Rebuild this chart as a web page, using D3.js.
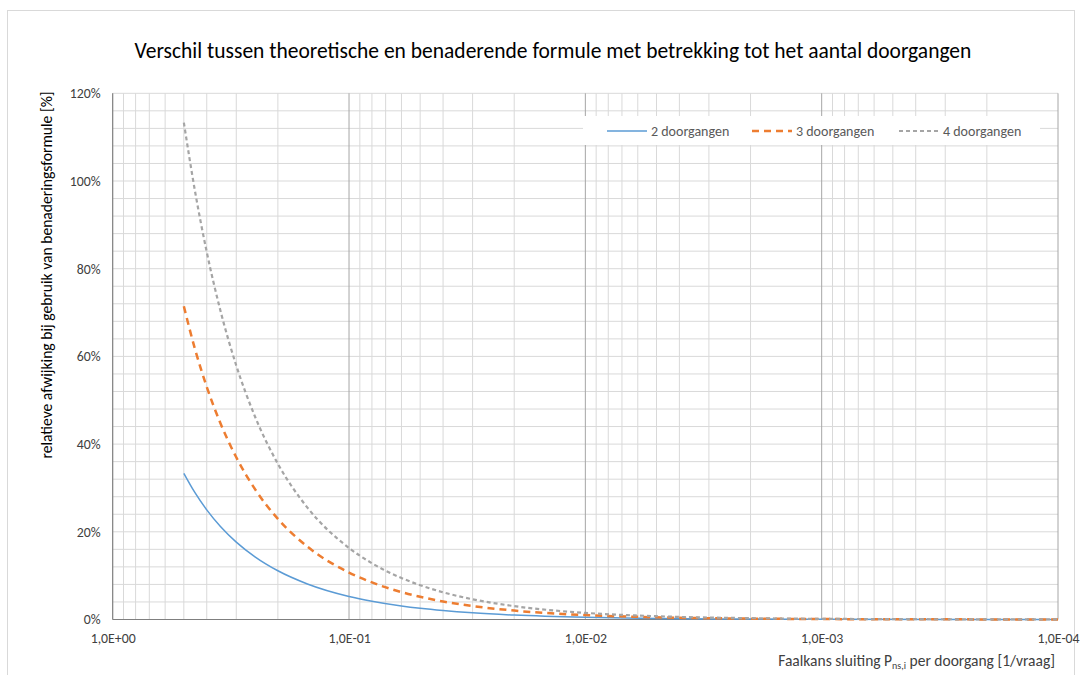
<!DOCTYPE html>
<html><head><meta charset="utf-8">
<script src="https://cdn.jsdelivr.net/npm/d3@7"></script>
<style>body{margin:0;background:#fff}svg{display:block}</style>
</head><body>
<svg id="c" width="1081" height="675"></svg>
<script>
const pValues = [0.5,0.45,0.4,0.35,0.3,0.25,0.2,0.15,0.1,0.08,0.06,0.05,0.04,0.03,0.02,0.01,0.005,0.002,0.001,0.0001];
const dev2 = [0.3333,0.2903,0.25,0.2121,0.1765,0.1429,0.1111,0.0811,0.0526,0.0417,0.0309,0.0256,0.0204,0.0152,0.0101,0.0050,0.0025,0.0010,0.0005,0.00005];
const dev3 = [0.7143,0.6194,0.5306,0.4475,0.3699,0.2973,0.2295,0.1662,0.1070,0.0845,0.0625,0.0517,0.0411,0.0306,0.0203,0.0101,0.0050,0.0020,0.0010,0.0001];
const dev4 = [1.1333,0.9813,0.8382,0.7042,0.5792,0.4629,0.3550,0.2552,0.1631,0.1283,0.0946,0.0782,0.0620,0.0461,0.0305,0.0151,0.0075,0.0030,0.0015,0.00015];
const seriesNames = ["2 doorgangen","3 doorgangen","4 doorgangen"];
const xTickValues = [1,0.1,0.01,0.001,0.0001];
const xTickLabels = ["1,0E+00","1,0E-01","1,0E-02","1,0E-03","1,0E-04"];
const yTickValues = [0,0.2,0.4,0.6,0.8,1.0,1.2];
const yTickLabels = ["0%","20%","40%","60%","80%","100%","120%"];
const title = "Verschil tussen theoretische en benaderende formule met betrekking tot het aantal doorgangen";
const yTitle = "relatieve afwijking bij gebruik van benaderingsformule [%]";

const svg = d3.select("#c");
const font = "Carlito, 'Liberation Sans Narrow', 'Open Sans', sans-serif";
const L = 112.7, R = 1058, T = 93.3, B = 619.5;
const x = d3.scaleLog().domain([1,0.0001]).range([L,R]);
const y = d3.scaleLinear().domain([0,1.2]).range([B,T]);

svg.append("rect").attr("x",7.5).attr("y",10.5).attr("width",1067).attr("height",670)
  .attr("fill","#fff").attr("stroke","#d9d9d9");

svg.append("text").attr("x",553).attr("y",58).attr("text-anchor","middle")
  .attr("font-family",font).attr("font-size",21.5).attr("fill","#000").text(title);

// minor vertical grid
const g = svg.append("g");
const minorX = [];
for (let d=0; d>-4; d--) for (let k=2;k<=9;k++) minorX.push(k*Math.pow(10,d-1));
g.selectAll(".vx").data(minorX).enter().append("line")
  .attr("x1",d=>x(d)).attr("x2",d=>x(d)).attr("y1",T).attr("y2",B)
  .attr("stroke","#d9d9d9").attr("stroke-width",1);
// horizontal grid every 4%
const hY = d3.range(1,31).map(i=>i*0.04);
g.selectAll(".hy").data(hY).enter().append("line")
  .attr("x1",L).attr("x2",R).attr("y1",d=>y(d)).attr("y2",d=>y(d))
  .attr("stroke","#d9d9d9").attr("stroke-width",1);
// major vertical
g.selectAll(".mx").data(xTickValues).enter().append("line")
  .attr("x1",d=>x(d)).attr("x2",d=>x(d)).attr("y1",T).attr("y2",B)
  .attr("stroke","#a6a6a6").attr("stroke-width",1);
// axes lines
svg.append("line").attr("x1",L).attr("x2",L).attr("y1",T).attr("y2",B).attr("stroke","#7f7f7f");
svg.append("line").attr("x1",L).attr("x2",R).attr("y1",B).attr("y2",B).attr("stroke","#7f7f7f");

// axes via d3
const xAxis = d3.axisBottom(x).tickValues(xTickValues).tickSize(0).tickPadding(14)
  .tickFormat((d,i)=>xTickLabels[i]);
const xa = svg.append("g").attr("transform",`translate(0,${B})`).call(xAxis);
xa.select(".domain").remove();
xa.selectAll("text").attr("font-family",font).attr("font-size",13.8).attr("fill","#404040");
const yAxis = d3.axisLeft(y).tickValues(yTickValues).tickSize(0).tickPadding(12)
  .tickFormat((d,i)=>yTickLabels[i]);
const ya = svg.append("g").attr("transform",`translate(${L},0)`).call(yAxis);
ya.select(".domain").remove();
ya.selectAll("text").attr("font-family",font).attr("font-size",13.8).attr("fill","#404040");

svg.append("text").attr("transform",`translate(52,275) rotate(-90)`)
  .attr("text-anchor","middle").attr("font-family",font).attr("font-size",15.6).attr("fill","#000").text(yTitle);

const xt = svg.append("text").attr("x",1055).attr("y",666).attr("text-anchor","end")
  .attr("font-family",font).attr("font-size",15.5).attr("fill","#404040");
xt.append("tspan").text("Faalkans sluiting P");
xt.append("tspan").attr("font-size",10).attr("dy",3).text("ns,i");
xt.append("tspan").attr("dy",-3).text(" per doorgang [1/vraag]");

// series
const styles = [
  {data:dev2,color:"#5B9BD5",w:1.5,dash:null},
  {data:dev3,color:"#ED7D31",w:2.5,dash:"7,5"},
  {data:dev4,color:"#A5A5A5",w:2.2,dash:"4,3"}
];
const line = d3.line().x(d=>x(d[0])).y(d=>y(d[1])).curve(d3.curveMonotoneX);
const lines = svg.append("g");
styles.forEach(s=>{
  lines.append("path").datum(pValues.map((p,i)=>[p,s.data[i]]))
    .attr("d",line).attr("fill","none").attr("stroke",s.color)
    .attr("stroke-width",s.w).attr("stroke-dasharray",s.dash);
});

// legend
const lg = svg.append("g");
lg.append("rect").attr("x",583).attr("y",116).attr("width",457).attr("height",29).attr("fill","#fff");
const legX = [607,752,899];
styles.forEach((s,i)=>{
  lg.append("line").attr("x1",legX[i]).attr("x2",legX[i]+40).attr("y1",131).attr("y2",131)
    .attr("stroke",s.color).attr("stroke-width",s.w).attr("stroke-dasharray",s.dash);
  lg.append("text").attr("x",legX[i]+44).attr("y",136).attr("font-family",font)
    .attr("font-size",14).attr("fill","#595959").text(seriesNames[i]);
});
</script>
</body></html>
